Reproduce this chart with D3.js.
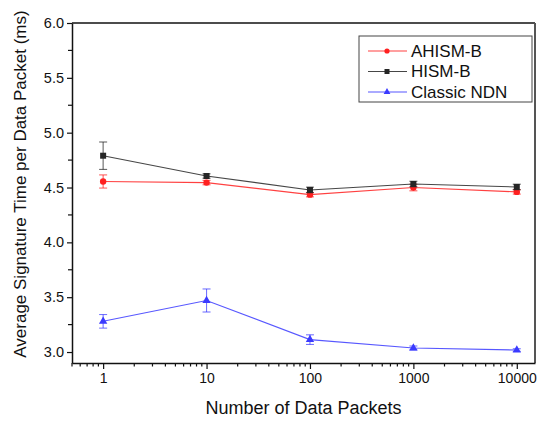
<!DOCTYPE html>
<html>
<head>
<meta charset="utf-8">
<script src="https://cdn.jsdelivr.net/npm/d3@7"></script>
<style>
  body { margin: 0; background: #fff; }
  svg { display: block; font-family: "Liberation Sans", Arial, sans-serif; }
</style>
</head>
<body>
<div id="chart"></div>
<script>
const packets = [1, 10, 100, 1000, 10000];
const ahismB = [4.555, 4.545, 4.435, 4.5, 4.46];
const ahismBErr = [0.06, 0.02, 0.02, 0.03, 0.02];
const hismB = [4.79, 4.605, 4.478, 4.532, 4.505];
const hismBErr = [0.125, 0.02, 0.025, 0.025, 0.025];
const classicNdn = [3.28, 3.47, 3.113, 3.037, 3.018];
const classicNdnErr = [0.062, 0.105, 0.044, 0.018, 0.012];
const yTicks = [3.0, 3.5, 4.0, 4.5, 5.0, 5.5, 6.0];
const xTicks = [1, 10, 100, 1000, 10000];

const series = [
  { name: "AHISM-B", values: ahismB, err: ahismBErr, color: "#ff2020", marker: "circle" },
  { name: "HISM-B", values: hismB, err: hismBErr, color: "#262626", marker: "square" },
  { name: "Classic NDN", values: classicNdn, err: classicNdnErr, color: "#3a3aff", marker: "triangle" }
];

const W = 545, H = 421;
const mLeft = 72, mRight = 535, mTop = 23, mBottom = 363;

const svg = d3.select("#chart").append("svg")
  .attr("width", W)
  .attr("height", H);

const x = d3.scaleLog().domain([0.5, 15000]).range([mLeft, mRight]);
const y = d3.scaleLinear().domain([2.9, 6.0]).range([mBottom, mTop]);

// frame: top black, right grey
svg.append("line").attr("x1", mLeft).attr("x2", mRight).attr("y1", mTop).attr("y2", mTop)
  .attr("stroke", "#111").attr("stroke-width", 1.5);
svg.append("line").attr("x1", mRight).attr("x2", mRight).attr("y1", mTop).attr("y2", mBottom)
  .attr("stroke", "#555").attr("stroke-width", 2);

// minor ticks
const xMinor = [];
for (let e = -1; e <= 4; e++) {
  for (let m = 2; m <= 9; m++) {
    const v = m * Math.pow(10, e);
    if (v >= 0.5 && v <= 15000) xMinor.push(v);
  }
}
svg.append("g")
  .selectAll("line")
  .data(xMinor)
  .join("line")
  .attr("x1", d => x(d)).attr("x2", d => x(d))
  .attr("y1", mBottom).attr("y2", mBottom + 3.5)
  .attr("stroke", "#111").attr("stroke-width", 1.2);

const yMinor = d3.range(3.25, 6.0, 0.5);
svg.append("g")
  .selectAll("line")
  .data(yMinor)
  .join("line")
  .attr("x1", mLeft - 4).attr("x2", mLeft)
  .attr("y1", d => y(d)).attr("y2", d => y(d))
  .attr("stroke", "#111").attr("stroke-width", 1.2);

const xAxis = svg.append("g")
  .attr("transform", `translate(0,${mBottom})`)
  .call(d3.axisBottom(x).tickValues(xTicks).tickFormat(d3.format("d")).tickSize(6).tickSizeOuter(0));
const yAxis = svg.append("g")
  .attr("transform", `translate(${mLeft},0)`)
  .call(d3.axisLeft(y).tickValues(yTicks).tickFormat(d3.format(".1f")).tickSize(5).tickSizeOuter(0));

[xAxis, yAxis].forEach(a => {
  a.select(".domain").attr("stroke", "#111").attr("stroke-width", 1.5);
  a.selectAll(".tick line").attr("stroke", "#111").attr("stroke-width", 1.2);
  a.selectAll(".tick text").attr("fill", "#111").style("font-size", "14px")
    .style("font-family", "'Liberation Sans', Arial, sans-serif");
});
xAxis.selectAll(".tick text").attr("dy", "0.71em").attr("y", 10);
yAxis.selectAll(".tick text").attr("x", -8).style("font-size", "14.5px");

// axis titles
svg.append("text")
  .attr("x", (mLeft + mRight) / 2)
  .attr("y", 414)
  .attr("text-anchor", "middle")
  .style("font-size", "18px")
  .attr("fill", "#111")
  .text("Number of Data Packets");
svg.append("text")
  .attr("transform", "translate(26,184) rotate(-90)")
  .attr("text-anchor", "middle")
  .style("font-size", "17px")
  .attr("fill", "#111")
  .text("Average Signature Time per Data Packet (ms)");

function drawMarker(g, type, color) {
  if (type === "circle") {
    g.append("circle").attr("r", 3.2).attr("fill", color);
  } else if (type === "square") {
    g.append("rect").attr("x", -3).attr("y", -3).attr("width", 6).attr("height", 6).attr("fill", color);
  } else {
    g.append("path").attr("d", d3.symbol().type(d3.symbolTriangle).size(30)()).attr("fill", color);
  }
}

const line = d3.line().x(d => x(d.x)).y(d => y(d.y));

series.forEach(s => {
  const pts = packets.map((p, i) => ({ x: p, y: s.values[i], e: s.err[i] }));
  const g = svg.append("g");
  g.append("path")
    .datum(pts)
    .attr("d", line)
    .attr("fill", "none")
    .attr("stroke", s.color)
    .attr("stroke-opacity", 0.85)
    .attr("stroke-width", 1.1);

  const eb = g.append("g").attr("stroke", s.color).attr("stroke-opacity", 0.7).attr("stroke-width", 1.1);
  eb.selectAll(".v").data(pts).join("line")
    .attr("x1", d => x(d.x)).attr("x2", d => x(d.x))
    .attr("y1", d => y(d.y - d.e)).attr("y2", d => y(d.y + d.e));
  eb.selectAll(".t").data(pts).join("line")
    .attr("x1", d => x(d.x) - 4).attr("x2", d => x(d.x) + 4)
    .attr("y1", d => y(d.y + d.e)).attr("y2", d => y(d.y + d.e));
  eb.selectAll(".b").data(pts).join("line")
    .attr("x1", d => x(d.x) - 4).attr("x2", d => x(d.x) + 4)
    .attr("y1", d => y(d.y - d.e)).attr("y2", d => y(d.y - d.e));

  pts.forEach(d => {
    const m = g.append("g").attr("transform", `translate(${x(d.x)},${y(d.y)})`);
    drawMarker(m, s.marker, s.color);
  });
});

// legend
const legend = svg.append("g").attr("transform", "translate(359,36)");
legend.append("rect")
  .attr("width", 173).attr("height", 66)
  .attr("fill", "#fff").attr("stroke", "#444").attr("stroke-width", 1);
series.forEach((s, i) => {
  const row = legend.append("g").attr("transform", `translate(0,${15 + i * 20.5})`);
  row.append("line").attr("x1", 9).attr("x2", 48).attr("y1", 0).attr("y2", 0)
    .attr("stroke", s.color).attr("stroke-opacity", 0.85).attr("stroke-width", 1.1);
  const m = row.append("g").attr("transform", "translate(28,0)");
  drawMarker(m, s.marker, s.color);
  if (s.marker === "circle") m.select("circle").attr("r", 2.6);
  if (s.marker === "square") m.select("rect").attr("x", -2.5).attr("y", -2.5).attr("width", 5).attr("height", 5);
  if (s.marker === "triangle") m.select("path").attr("d", d3.symbol().type(d3.symbolTriangle).size(20)());
  row.append("text").attr("x", 52).attr("y", 0).attr("dy", "0.35em")
    .style("font-size", "17px").attr("fill", "#111").text(s.name);
});
</script>
</body>
</html>
